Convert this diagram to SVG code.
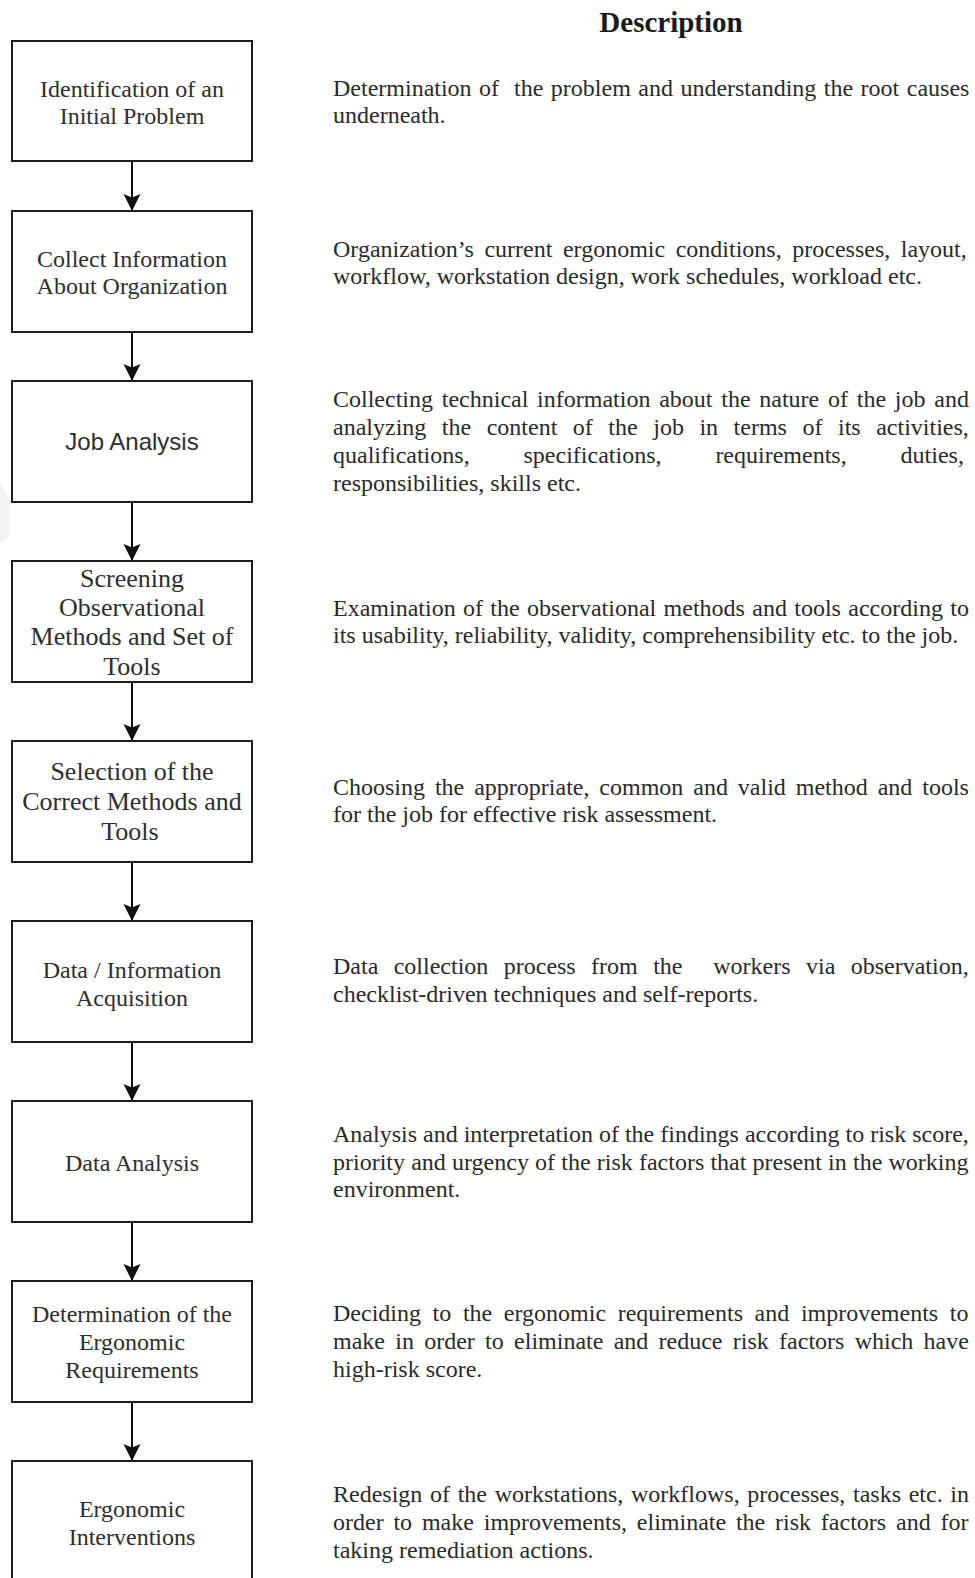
<svg xmlns="http://www.w3.org/2000/svg" width="975" height="1578" viewBox="0 0 975 1578">
  <defs>
    <style>
      .box { fill: #ffffff; stroke: #1e1e1e; stroke-width: 2; }
      .lbl { font-family: "Liberation Serif", "Times New Roman", serif; font-size: 24px; fill: #2e2e2e; text-anchor: middle; }
      .lbl26 { font-size: 26px; }
      .sans { font-family: "Liberation Sans", Arial, sans-serif; }
      .desc { font-family: "Liberation Serif", "Times New Roman", serif; font-size: 24px; fill: #2a2a2a; white-space: pre; }
      .head { font-family: "Liberation Serif", "Times New Roman", serif; font-size: 29px; font-weight: bold; fill: #1a1a1a; text-anchor: middle; }
      .conn { stroke: #111111; stroke-width: 2; fill: none; marker-end: url(#arrow); }
    </style>
    <marker id="arrow" markerUnits="userSpaceOnUse" markerWidth="18" markerHeight="18" viewBox="0 0 18 18" refX="17" refY="9" orient="auto">
      <path d="M0,0.5 L17,9 L0,17.5 L3.5,9 Z" fill="#111111"/>
    </marker>
  </defs>

  <rect width="975" height="1578" fill="#ffffff"/>
  <!-- faint background mark on the left edge -->
  <path d="M0,482 L10,500 L10,535 L0,545 Z" fill="#f2f2f2"/>

  <text class="head" x="671" y="32">Description</text>

  <!-- connectors -->
  <g id="connectors">
    <line class="conn" x1="132" y1="161" x2="132" y2="211"/>
    <line class="conn" x1="132" y1="332" x2="132" y2="381"/>
    <line class="conn" x1="132" y1="502" x2="132" y2="561"/>
    <line class="conn" x1="132" y1="682" x2="132" y2="741"/>
    <line class="conn" x1="132" y1="862" x2="132" y2="921"/>
    <line class="conn" x1="132" y1="1042" x2="132" y2="1101"/>
    <line class="conn" x1="132" y1="1222" x2="132" y2="1281"/>
    <line class="conn" x1="132" y1="1402" x2="132" y2="1461"/>
  </g>

  <g id="step1">
    <rect class="box" x="12" y="41" width="240" height="120"/>
    <text class="lbl" x="132" y="97">Identification of an</text>
    <text class="lbl" x="132" y="124">Initial Problem</text>
  </g>
  <g id="step2">
    <rect class="box" x="12" y="211" width="240" height="121"/>
    <text class="lbl" x="132" y="267">Collect Information</text>
    <text class="lbl" x="132" y="294">About Organization</text>
  </g>
  <g id="step3">
    <rect class="box" x="12" y="381" width="240" height="121"/>
    <text class="lbl sans" x="132" y="450">Job Analysis</text>
  </g>
  <g id="step4">
    <rect class="box" x="12" y="561" width="240" height="121"/>
    <text class="lbl lbl26" x="132" y="587">Screening</text>
    <text class="lbl lbl26" x="132" y="616">Observational</text>
    <text class="lbl lbl26" x="132" y="645">Methods and Set of</text>
    <text class="lbl lbl26" x="132" y="675">Tools</text>
  </g>
  <g id="step5">
    <rect class="box" x="12" y="741" width="240" height="121"/>
    <text class="lbl lbl26" x="132" y="780">Selection of the</text>
    <text class="lbl lbl26" x="132" y="810">Correct Methods and</text>
    <text class="lbl lbl26" x="130" y="840">Tools</text>
  </g>
  <g id="step6">
    <rect class="box" x="12" y="921" width="240" height="121"/>
    <text class="lbl" x="132" y="978">Data / Information</text>
    <text class="lbl" x="132" y="1006">Acquisition</text>
  </g>
  <g id="step7">
    <rect class="box" x="12" y="1101" width="240" height="121"/>
    <text class="lbl" x="132" y="1171">Data Analysis</text>
  </g>
  <g id="step8">
    <rect class="box" x="12" y="1281" width="240" height="121"/>
    <text class="lbl" x="132" y="1322">Determination of the</text>
    <text class="lbl" x="132" y="1350">Ergonomic</text>
    <text class="lbl" x="132" y="1378">Requirements</text>
  </g>
  <g id="step9">
    <rect class="box" x="12" y="1461" width="240" height="130"/>
    <text class="lbl" x="132" y="1517">Ergonomic</text>
    <text class="lbl" x="132" y="1545">Interventions</text>
  </g>

  <!-- descriptions (justified column, x 333 to 969) -->
  <g id="descriptions">
    <text class="desc" x="333" y="96" word-spacing="1.47">Determination of  the problem and understanding the root causes</text>
    <text class="desc" x="333" y="123">underneath.</text>

    <text class="desc" x="333" y="257" word-spacing="4.56">Organization’s current ergonomic conditions, processes, layout,</text>
    <text class="desc" x="333" y="284">workflow, workstation design, work schedules, workload etc.</text>

    <text class="desc" x="333" y="407" word-spacing="2.75">Collecting technical information about the nature of the job and</text>
    <text class="desc" x="333" y="435" word-spacing="9.53">analyzing the content of the job in terms of its activities,</text>
    <text class="desc" x="333" y="463" word-spacing="47.9">qualifications, specifications, requirements, duties,</text>
    <text class="desc" x="333" y="491">responsibilities, skills etc.</text>

    <text class="desc" x="333" y="616" word-spacing="1.34">Examination of the observational methods and tools according to</text>
    <text class="desc" x="333" y="643">its usability, reliability, validity, comprehensibility etc. to the job.</text>

    <text class="desc" x="333" y="795" word-spacing="3.92">Choosing the appropriate, common and valid method and tools</text>
    <text class="desc" x="333" y="822">for the job for effective risk assessment.</text>

    <text class="desc" x="333" y="974" word-spacing="9.4">Data collection process from the  workers via observation,</text>
    <text class="desc" x="333" y="1002">checklist-driven techniques and self-reports.</text>

    <text class="desc" x="333" y="1142">Analysis and interpretation of the findings according to risk score,</text>
    <text class="desc" x="333" y="1170" word-spacing="0.19">priority and urgency of the risk factors that present in the working</text>
    <text class="desc" x="333" y="1197">environment.</text>

    <text class="desc" x="333" y="1321" word-spacing="5.63">Deciding to the ergonomic requirements and improvements to</text>
    <text class="desc" x="333" y="1349" word-spacing="4.28">make in order to eliminate and reduce risk factors which have</text>
    <text class="desc" x="333" y="1377">high-risk score.</text>

    <text class="desc" x="333" y="1502" word-spacing="1.68">Redesign of the workstations, workflows, processes, tasks etc. in</text>
    <text class="desc" x="333" y="1530" word-spacing="3.81">order to make improvements, eliminate the risk factors and for</text>
    <text class="desc" x="333" y="1558">taking remediation actions.</text>
  </g>
</svg>
